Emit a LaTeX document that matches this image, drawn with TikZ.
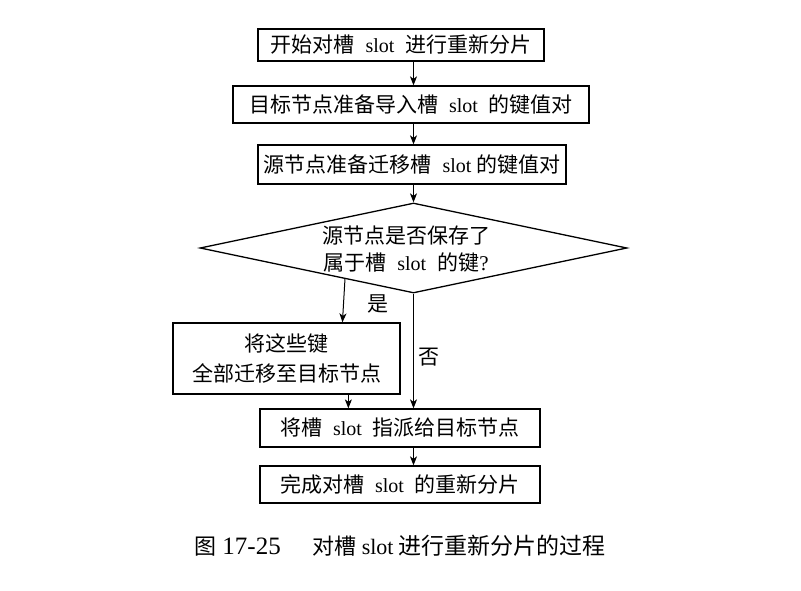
\documentclass[tikz,border=0pt]{standalone}
\usepackage{fontspec}
\setmainfont{Liberation Serif}
\newfontfamily\cjk{Noto Sans CJK SC}
\usetikzlibrary{shapes.geometric,arrows.meta,calc}
\newcommand\zh[1]{{\cjk #1}}
\newcommand\slt{{\fontsize{20}{20}\selectfont slot}}
\newcommand\gp{\hspace{11pt}}
\begin{document}
\begin{tikzpicture}[x=1pt,y=-1pt,
  box/.style={draw, line width=1.3pt, inner sep=0pt, align=center, font=\fontsize{21}{30}\selectfont},
  arr/.style={-{Stealth[length=9pt,width=7pt,inset=2.5pt]}, line width=1pt},
  lbl/.style={font=\fontsize{21}{21}\selectfont, inner sep=0pt}]
\useasboundingbox[fill=white] (0,0) rectangle (801,591);
\node[box, minimum width=286, minimum height=32] (b1) at (401,45) {\zh{开始对槽}\gp\slt\gp\zh{进行重新分片}};
\node[box, minimum width=356, minimum height=37] (b2) at (411,104.5) {\zh{目标节点准备导入槽}\gp\slt\gp\zh{的键值对}};
\node[box, minimum width=308, minimum height=39] (b3) at (412,164.5) {\zh{源节点准备迁移槽}\gp\slt\hspace{5pt}\zh{的键值对}};
\node[draw, line width=1.3pt, shape=diamond, aspect=4.74, minimum width=427, minimum height=90, inner sep=0pt] (d) at (413.5,248) {};
\node[align=center, font=\fontsize{21}{27}\selectfont, inner sep=0pt] (dt) at (406,249) {\zh{源节点是否保存了}\\\zh{属于槽}\gp\slt\gp\zh{的键}?};
\node[box, minimum width=227, minimum height=71] (b4) at (286.5,358.5) {\zh{将这些键}\\\zh{全部迁移至目标节点}};
\node[box, minimum width=280, minimum height=38] (b5) at (400,428) {\zh{将槽}\gp\slt\gp\zh{指派给目标节点}};
\node[box, minimum width=280, minimum height=37] (b6) at (400,484.5) {\zh{完成对槽}\gp\slt\gp\zh{的重新分片}};
\node[inner sep=0pt, font=\fontsize{22}{22}\selectfont] (cap) at (400,546) {\zh{图}\hspace{6pt}{\fontsize{25}{25}\selectfont 17-25}\hspace{32pt}\zh{对槽}\hspace{5pt}{\fontsize{22}{22}\selectfont slot}\hspace{5pt}\zh{\fontsize{23}{23}\selectfont 进行重新分片的过程}};
\draw[arr] (b1.south -| d.north) -- (b2.north -| d.north);
\draw[arr] (b2.south -| d.north) -- (b3.north -| d.north);
\draw[arr] (b3.south -| d.north) -- (d.north);
\coordinate (ys) at ($(d.west)!0.68!(d.south)$);
\coordinate (ye) at ($(b4.north west)!0.745!(b4.north east)$);
\draw[arr] (ys) -- (ye) node[lbl, midway, anchor=west, xshift=23pt, yshift=-3pt] {\zh{是}};
\draw[arr] (d.south) -- (b5.north -| d.south) node[lbl, pos=0.55, anchor=west, xshift=4pt] {\zh{否}};
\coordinate (fs) at ($(b4.south west)!0.771!(b4.south east)$);
\draw[arr] (fs) -- (b5.north -| fs);
\draw[arr] (b5.south -| d.south) -- (b6.north -| d.south);
\end{tikzpicture}
\end{document}
